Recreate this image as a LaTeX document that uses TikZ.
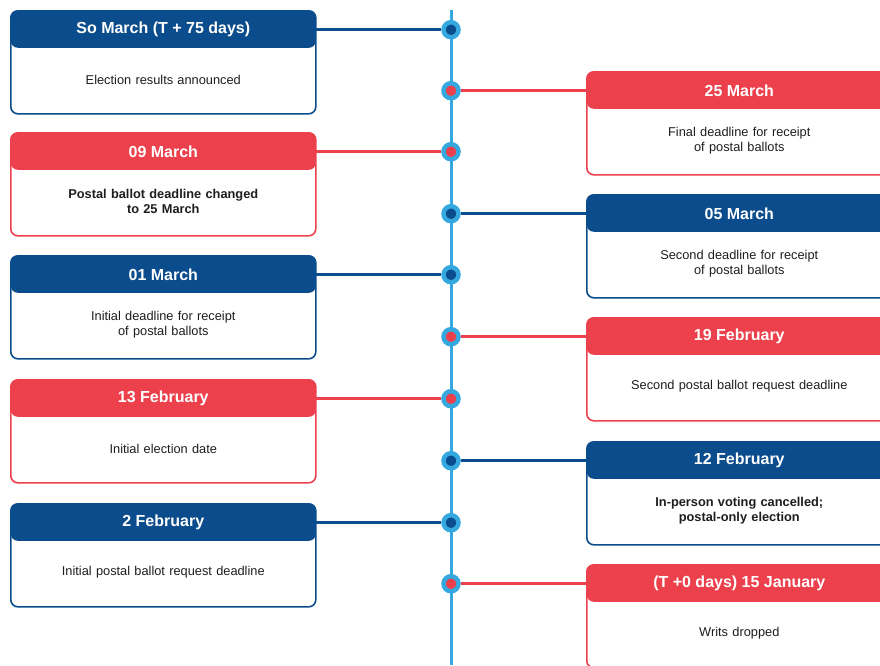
\documentclass[tikz,border=0pt]{standalone}
\usepackage{fontspec}
\setmainfont{Liberation Sans}
\usetikzlibrary{positioning}
\definecolor{navy}{HTML}{0B4C8C}
\definecolor{poppy}{HTML}{EC414C}
\definecolor{sky}{HTML}{34A8DF}
\definecolor{ink}{HTML}{1E1E1E}

\tikzset{
  card/.style={draw=#1, fill=white, line width=1.6pt, rounded corners=7pt,
    minimum width=305pt, minimum height=103pt, inner sep=0pt, anchor=north west,
    path picture={\fill[#1] (path picture bounding box.north west)
      rectangle ([yshift=-37pt]path picture bounding box.north east);}},
  head/.style={text=white, font=\bfseries\fontsize{16}{19}\selectfont,
    minimum width=305pt, minimum height=37pt, inner sep=0pt, anchor=north},
  body/.style={font=\fontsize{12.8}{15}\selectfont, text=ink, align=center,
    text width=290pt, minimum height=62pt, inner sep=0pt},
  evdot/.style={circle, fill=#1, draw=sky, line width=4.5pt, minimum size=15pt, inner sep=0pt},
  link/.style={draw=#1, line width=3pt},
}

\begin{document}
\begin{tikzpicture}[x=1pt, y=-1pt]
  \useasboundingbox (0,0) rectangle (880,665);
  \clip (0,0) rectangle (880,665);
  \coordinate (top) at (451,10);
  \coordinate (bottom) at (451,665);
  \draw[sky, line width=3pt] (top) -- (bottom);
  \foreach \n/\x/\y/\c/\a/\d/\t in {
    1/10/10/navy/east/{So March (T + 75 days)}/{Election results announced},
    2/586/71/poppy/west/{25 March}/{Final deadline for receipt\\of postal ballots},
    3/10/132/poppy/east/{09 March}/{\textbf{Postal ballot deadline changed}\\\textbf{to 25 March}},
    4/586/194/navy/west/{05 March}/{Second deadline for receipt\\of postal ballots},
    5/10/255/navy/east/{01 March}/{Initial deadline for receipt\\of postal ballots},
    6/586/317/poppy/west/{19 February}/{Second postal ballot request deadline},
    7/10/379/poppy/east/{13 February}/{Initial election date},
    8/586/441/navy/west/{12 February}/{\textbf{In-person voting cancelled;}\\\textbf{postal-only election}},
    9/10/503/navy/east/{2 February}/{Initial postal ballot request deadline},
    10/586/564/poppy/west/{(T +0 days) 15 January}/{Writs dropped}}{
    \node[card=\c] (c\n) at (\x,\y) {};
    \node[head] (h\n) at ([yshift=-1pt]c\n.north) {\d};
    \node[body, below=0pt of h\n] (b\n) {\t};
    \node[evdot=\c] (d\n) at (top |- h\n) {};
    \draw[link=\c] (h\n.\a) -- (d\n);
  }
\end{tikzpicture}
\end{document}
